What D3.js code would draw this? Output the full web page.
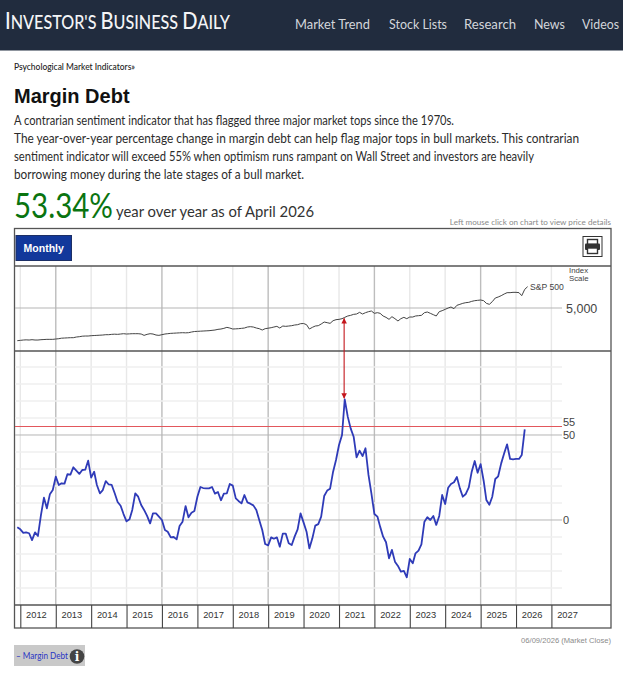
<!DOCTYPE html>
<html>
<head>
<meta charset="utf-8">
<title>Margin Debt</title>
<script src="https://cdn.jsdelivr.net/npm/d3@7"></script>
<style>
  html, body { margin: 0; padding: 0; background: #fff; }
  svg { display: block; }
  .body-text { font-family: Lato, sans-serif; font-size: 13px; fill: #2b2b2b; }
  .chart-label { font-family: "Liberation Sans", Arial, sans-serif; fill: #444; }
</style>
</head>
<body>
<svg id="chart" width="623" height="680"></svg>
<script>
// months run from Dec 2011, one value per month
const firstMonth = new Date(2011, 11, 1);

// S&P 500 (Dec 2011 - May 2026)
const sp500 = [
  1328, 1365, 1403, 1422, 1403, 1440, 1403, 1403, 1440, 1459, 1478, 1478, 1478, 1515, 1553, 1609, 1628, 1646, 1665, 1665,
  1740, 1778, 1834, 1852, 1852, 1890, 1909, 1927, 1946, 1965, 2002, 2002, 2040, 2059, 2040, 2077, 2115, 2077, 2096, 2115,
  2115, 2115, 2077, 1927, 2040, 2115, 2077, 1965, 1927, 2002, 2077, 2115, 2152, 2171, 2190, 2209, 2227, 2209, 2227, 2302,
  2358, 2377, 2396, 2415, 2433, 2452, 2490, 2527, 2602, 2639, 2714, 2827, 2752, 2639, 2658, 2677, 2714, 2752, 2864, 2902,
  2864, 2752, 2677, 2527, 2677, 2733, 2789, 2864, 2939, 2752, 2977, 2939, 2977, 3014, 3089, 3127, 3239, 3258, 3127, 2640,
  2827, 2977, 3014, 3201, 3426, 3351, 3276, 3576, 3689, 3726, 3801, 3951, 4101, 4176, 4288, 4326, 4513, 4326, 4476, 4588,
  4663, 4401, 4476, 4401, 4101, 3951, 3726, 4026, 3801, 3539, 3801, 3951, 3801, 3988, 3988, 4101, 4138, 4176, 4476, 4551,
  4401, 4251, 4101, 4588, 4700, 4850, 5000, 5112, 4925, 5300, 5412, 5525, 5600, 5637, 5749, 5824, 5862, 5899, 5824, 5525,
  5412, 5712, 6124, 6236, 6386, 6574, 6724, 6724, 6761, 6761, 6724, 6386, 7098, 7398
];

// margin debt, year over year % (Dec 2011 - Apr 2026)
const marginDebt = [
  -4.3, -5.5, -7.6, -7.3, -7.8, -11.8, -7.3, -9.4, 2.9, 13.1, 6.9, 15.1, 17.6, 25.5, 20.6, 21.6, 21.4, 26.9, 26.7, 31,
  29, 27.1, 29.4, 29.6, 34.9, 24.9, 28.4, 20.6, 15.7, 17.6, 22.9, 20.9, 20.6, 15.7, 10.6, 8.4, 3.5, -0.8, 0.4, 5.9,
  15.7, 13.7, 8.8, 5.9, 2.4, -2, 3.9, 3.9, 2, 0, -5.9, -6.9, -10.2, -10, -11.4, -3.5, -1, 8.2, 1.6, 4.3,
  5.3, 13.7, 19.4, 18.8, 18.6, 18.6, 19.4, 15.5, 16.5, 11.6, 15.5, 15.7, 21.2, 20.2, 12.7, 11.2, 9.8, 14.7, 10.4, 9.6,
  8.6, 5.9, 0, -5.9, -14.1, -14.9, -10.2, -11, -10.2, -15.7, -8, -8, -13.7, -14.7, -9.8, -5.5, 3.9, -1.4, -6.9, -16.7,
  -10.8, -3.3, -2.4, 2, 14.1, 17.3, 18.4, 28.4, 35.3, 44.1, 50, 71, 60.8, 53.9, 49, 36.9, 40.8, 37.6, 42.2, 26.5,
  15.7, 3.5, 2, -3.9, -9.8, -13.1, -22.5, -17.6, -24.5, -27, -30.4, -30, -33.7, -22.9, -25.5, -19.6, -18, -14.3, -1, 1.6,
  0, 2.4, -2.9, 2.4, 14.7, 9.4, 19, 21.2, 22.2, 25.3, 18.6, 13.7, 15.3, 19.2, 28.4, 34.7, 27.8, 32.9, 23.1, 11.8,
  9, 13.7, 24.1, 25.7, 33.3, 39.2, 44.5, 35.9, 35.7, 35.9, 35.9, 38.2, 53.34
];

const yearLabels = d3.range(2012, 2028);
const majorYears = [2013, 2016, 2019, 2022, 2025];
const debtGrid = [-40, -30, -20, -10, 10, 20, 30, 40, 60, 70, 80, 90];
const debtTicks = [50, 0];
const alertLevel = 55;
const peakMonth = new Date(2021, 2, 1);
const navItems = ['Market Trend', 'Stock Lists', 'Research', 'News', 'Videos'];
const navStarts = [295, 389, 464, 534, 582];
const navWidths = [75, 58, 52, 31, 37];
const bodyLines = [
  'A contrarian sentiment indicator that has flagged three major market tops since the 1970s.',
  'The year-over-year percentage change in margin debt can help flag major tops in bull markets. This contrarian',
  'sentiment indicator will exceed 55% when optimism runs rampant on Wall Street and investors are heavily',
  'borrowing money during the late stages of a bull market.'
];
const bodyWidths = [440, 565, 520, 290];

const month = i => d3.timeMonth.offset(firstMonth, i);
const svg = d3.select('#chart');

const margin = { top: 266, right: 611, divider: 351, bottom: 605, left: 15, axis: 628, gridEnd: 562 };

const x = d3.scaleTime()
  .domain([new Date(2012, 0, 1), new Date(2027, 0, 1)])
  .range([20.3, 551.4]);
const ySp = d3.scaleLinear().domain([170, 9720]).range([margin.divider, margin.top]);
const yDebt = d3.scaleLinear().domain([-50, 99.4]).range([margin.bottom, margin.divider]);

// page header
svg.append('rect').attr('width', 623).attr('height', 50.5).attr('fill', '#212c3e');

const logo = svg.append('text')
  .attr('y', 29)
  .attr('fill', '#f4f5f7')
  .attr('font-family', 'Lato, sans-serif')
  .attr('font-weight', 500);
[["I", 23], ["NVESTOR'S ", 18.5], ["B", 23], ["USINESS ", 18.5], ["D", 23], ["AILY", 18.5]].forEach(d => {
  logo.append('tspan').attr('font-size', d[1]).text(d[0]);
});
// squeeze the wordmark to its width in the header
logo.attr('transform', `translate(5,0) scale(${225 / logo.node().getComputedTextLength()},1)`);

svg.selectAll('.nav').data(navItems).join('text')
  .attr('class', 'nav')
  .attr('x', (d, i) => navStarts[i]).attr('y', 29)
  .attr('fill', '#d3d6db')
  .attr('font-family', 'Lato, sans-serif')
  .attr('font-size', 14)
  .attr('textLength', (d, i) => navWidths[i])
  .attr('lengthAdjust', 'spacingAndGlyphs')
  .text(d => d);

svg.append('text')
  .attr('x', 14).attr('y', 70)
  .attr('font-family', 'Lato, sans-serif').attr('font-size', 9.3).attr('font-weight', 500)
  .attr('fill', '#222')
  .attr('textLength', 121).attr('lengthAdjust', 'spacingAndGlyphs')
  .text('Psychological Market Indicators»');

svg.append('text')
  .attr('x', 14).attr('y', 103)
  .attr('font-family', '"Liberation Sans", Arial, sans-serif').attr('font-size', 20).attr('font-weight', 700)
  .attr('fill', '#111')
  .text('Margin Debt');

svg.selectAll('.body-text').data(bodyLines).join('text')
  .attr('class', 'body-text')
  .attr('x', 14).attr('y', (d, i) => 125 + i * 18)
  .attr('textLength', (d, i) => bodyWidths[i])
  .attr('lengthAdjust', 'spacingAndGlyphs')
  .text(d => d);

svg.append('text')
  .attr('x', 14).attr('y', 218)
  .attr('font-family', 'Lato, sans-serif').attr('font-size', 34).attr('font-weight', 400)
  .attr('fill', '#0a7410')
  .attr('textLength', 99).attr('lengthAdjust', 'spacingAndGlyphs')
  .text('53.34%');
svg.append('text')
  .attr('x', 116).attr('y', 217)
  .attr('font-family', 'Lato, sans-serif').attr('font-size', 15)
  .attr('fill', '#333')
  .attr('textLength', 198).attr('lengthAdjust', 'spacingAndGlyphs')
  .text('year over year as of April 2026');
svg.append('text')
  .attr('x', 611).attr('y', 225).attr('text-anchor', 'end')
  .attr('font-family', 'Lato, sans-serif').attr('font-size', 8.1)
  .attr('fill', '#8a8a8a')
  .text('Left mouse click on chart to view price details');

// chart frame and toolbar
svg.append('rect')
  .attr('x', 14.5).attr('y', 228.5)
  .attr('width', 596.5).attr('height', margin.axis - 228.5)
  .attr('fill', '#fff').attr('stroke', '#555').attr('stroke-width', 1.3);

svg.append('rect')
  .attr('x', 16).attr('y', 235.5).attr('width', 55.5).attr('height', 25)
  .attr('fill', '#12389b').attr('stroke', '#1c2f66');
svg.append('text')
  .attr('x', 43.7).attr('y', 252).attr('text-anchor', 'middle')
  .attr('font-family', '"Liberation Sans", Arial, sans-serif').attr('font-size', 10.5).attr('font-weight', 700)
  .attr('fill', '#fff')
  .text('Monthly');

const printer = svg.append('g').attr('transform', 'translate(582.5,236)');
printer.append('rect').attr('x', 0.5).attr('y', 0.5).attr('width', 19).attr('height', 20).attr('fill', '#fff').attr('stroke', '#333');
printer.append('rect').attr('x', 5).attr('y', 3.5).attr('width', 10).attr('height', 5).attr('fill', '#fff').attr('stroke', '#333').attr('stroke-width', 1.4);
printer.append('rect').attr('x', 2.5).attr('y', 7.5).attr('width', 15).attr('height', 6.5).attr('rx', 1).attr('fill', '#333');
printer.append('rect').attr('x', 5).attr('y', 12).attr('width', 10).attr('height', 5.5).attr('fill', '#fff').attr('stroke', '#333').attr('stroke-width', 1.4);

// gridlines
const grid = svg.append('g');
grid.selectAll('.year-line').data(yearLabels).join('line')
  .attr('x1', d => x(new Date(d, 0, 1))).attr('x2', d => x(new Date(d, 0, 1)))
  .attr('y1', margin.top).attr('y2', margin.bottom)
  .attr('stroke', d => majorYears.includes(d) ? '#bdbdbd' : '#e8e8e8')
  .attr('stroke-width', 1.4);
grid.selectAll('.debt-line').data(debtGrid).join('line')
  .attr('x1', margin.left).attr('x2', margin.gridEnd)
  .attr('y1', d => yDebt(d)).attr('y2', d => yDebt(d))
  .attr('stroke', '#efefef').attr('stroke-width', 1.3);
grid.selectAll('.debt-tick').data(debtTicks).join('line')
  .attr('x1', margin.left).attr('x2', margin.gridEnd)
  .attr('y1', d => yDebt(d)).attr('y2', d => yDebt(d))
  .attr('stroke', '#b5b5b5').attr('stroke-width', 1);
grid.append('line')
  .attr('x1', margin.left).attr('x2', margin.gridEnd)
  .attr('y1', ySp(5000)).attr('y2', ySp(5000))
  .attr('stroke', '#b5b5b5').attr('stroke-width', 1);

// panel rules
[margin.top, margin.divider, margin.bottom].forEach(y => {
  svg.append('line')
    .attr('x1', 14.5).attr('x2', 611)
    .attr('y1', y).attr('y2', y)
    .attr('stroke', '#555').attr('stroke-width', 1.3);
});

// 55% alert line
svg.append('line')
  .attr('x1', margin.left).attr('x2', margin.gridEnd)
  .attr('y1', yDebt(alertLevel)).attr('y2', yDebt(alertLevel))
  .attr('stroke', '#e2575c').attr('stroke-width', 1.2);

// year axis
const xAxis = d3.axisBottom(x)
  .tickValues(yearLabels.map(d => new Date(d, 0, 1)))
  .tickSize(margin.axis - margin.bottom)
  .tickFormat(d3.timeFormat('%Y'));
const xG = svg.append('g')
  .attr('transform', `translate(0,${margin.bottom})`)
  .call(xAxis);
xG.select('.domain').remove();
xG.selectAll('line').attr('stroke', '#444').attr('stroke-width', 1.1);
xG.selectAll('text')
  .attr('x', 15.6).attr('y', 6.5).attr('dy', '0.71em')
  .attr('font-family', '"Liberation Sans", Arial, sans-serif').attr('font-size', 9.3)
  .attr('fill', '#333');

// value axes, labels only
const debtAxis = d3.axisRight(yDebt).tickValues([alertLevel, ...debtTicks]).tickSize(0).tickFormat(d3.format('d'));
const debtG = svg.append('g').attr('class', 'chart-label')
  .attr('transform', 'translate(557,0)')
  .call(debtAxis);
debtG.select('.domain').remove();
debtG.selectAll('text').attr('x', 6).attr('font-size', 11).attr('fill', '#444')
  .attr('font-family', '"Liberation Sans", Arial, sans-serif')
  .attr('dy', d => d === alertLevel ? '-0.05em' : '0.3em');

const spAxis = d3.axisRight(ySp).tickValues([5000]).tickSize(0).tickFormat(d3.format(','));
const spG = svg.append('g')
  .attr('transform', 'translate(560,0)')
  .call(spAxis);
spG.select('.domain').remove();
spG.selectAll('text').attr('x', 6).attr('font-size', 12.5).attr('fill', '#444')
  .attr('font-family', '"Liberation Sans", Arial, sans-serif');

svg.append('text').attr('class', 'chart-label').attr('x', 569).attr('y', 273).attr('font-size', 7.8).text('Index');
svg.append('text').attr('class', 'chart-label').attr('x', 569).attr('y', 280.5).attr('font-size', 7.8).text('Scale');
svg.append('text').attr('class', 'chart-label').attr('x', 530).attr('y', 290).attr('font-size', 8.6).attr('fill', '#333').text('S&P 500');

// series
const spLine = d3.line().x((d, i) => x(month(i))).y(d => ySp(d));
const debtLine = d3.line().x((d, i) => x(month(i))).y(d => yDebt(d));

svg.append('path')
  .datum(sp500)
  .attr('fill', 'none').attr('stroke', '#444').attr('stroke-width', 1)
  .attr('stroke-linejoin', 'round')
  .attr('d', spLine);

svg.append('path')
  .datum(marginDebt)
  .attr('fill', 'none').attr('stroke', '#2f3bb8').attr('stroke-width', 1.8)
  .attr('stroke-linejoin', 'round')
  .attr('d', debtLine);

// arrow between S&P and the margin debt peak
const peakIndex = d3.timeMonth.count(firstMonth, peakMonth);
const defs = svg.append('defs');
defs.append('marker')
  .attr('id', 'arrow')
  .attr('viewBox', '0 0 8 8')
  .attr('refX', 7.5).attr('refY', 4)
  .attr('markerWidth', 5).attr('markerHeight', 5)
  .attr('orient', 'auto-start-reverse')
  .append('path').attr('d', 'M0,0L8,4L0,8Z').attr('fill', '#c4161c');
svg.append('line')
  .attr('x1', x(peakMonth) - 0.6).attr('x2', x(peakMonth) - 0.6)
  .attr('y1', ySp(sp500[peakIndex]) + 1).attr('y2', yDebt(marginDebt[peakIndex]) - 1)
  .attr('stroke', '#c4161c').attr('stroke-width', 1.1)
  .attr('marker-start', 'url(#arrow)').attr('marker-end', 'url(#arrow)');

// footer
svg.append('text')
  .attr('x', 611).attr('y', 643).attr('text-anchor', 'end')
  .attr('font-family', '"Liberation Sans", Arial, sans-serif').attr('font-size', 7.6)
  .attr('fill', '#8a8a8a')
  .text('06/09/2026 (Market Close)');

svg.append('rect').attr('x', 14).attr('y', 645).attr('width', 71).attr('height', 21).attr('fill', '#c9c9c9');
svg.append('text')
  .attr('x', 16).attr('y', 659)
  .attr('font-family', 'Lato, sans-serif').attr('font-size', 10.2)
  .attr('fill', '#2a35c4')
  .attr('textLength', 52).attr('lengthAdjust', 'spacingAndGlyphs')
  .text('– Margin Debt');
svg.append('circle').attr('cx', 77).attr('cy', 656.5).attr('r', 7.3).attr('fill', '#444');
svg.append('text')
  .attr('x', 77).attr('y', 661).attr('text-anchor', 'middle')
  .attr('font-family', '"DejaVu Serif", serif').attr('font-size', 12).attr('font-weight', 700)
  .attr('fill', '#fff')
  .text('i');
</script>
</body>
</html>
